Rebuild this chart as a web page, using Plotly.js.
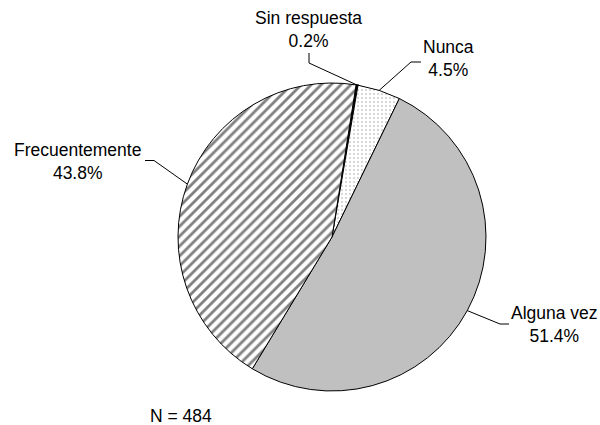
<!DOCTYPE html>
<html>
<head>
<meta charset="utf-8">
<script src="https://cdn.plot.ly/plotly-3.0.1.min.js"></script>
<style>html,body{margin:0;padding:0;background:#fff;}#chart{width:600px;height:425px;}</style>
</head>
<body>
<div id="chart"></div>
<script>
// ---- data ----
const categories = ['Sin respuesta', 'Nunca', 'Alguna vez', 'Frecuentemente'];
const values = [0.2, 4.5, 51.4, 43.8];
const pctLabels = ['0.2%', '4.5%', '51.4%', '43.8%'];
const sampleNote = 'N = 484';

// ---- layout geometry (pixels) ----
const W = 600, H = 425;
const cx = 332, cy = 237, R = 154;
const rotationDeg = 9;
// label centre, elbow point, line end near label
const labelPos = [[308.5, 29], [448, 59], [554, 324], [77, 161]];
const elbowPos = [[309, 63], [411, 62], [500, 324], [154, 160.5]];
const linePos  = [[309, 53], [421, 62], [509, 324], [145, 160.5]];

const px = x => x / W;
const py = y => 1 - y / H;
const font = {family: 'Arial, "Liberation Sans", sans-serif', size: 17.5, color: '#000'};

const total = values.reduce((a, b) => a + b, 0);
let cum = 0;
const shapes = [];
const annotations = [];
values.forEach((v, i) => {
  const mid = (rotationDeg + 360 * (cum + v / 2) / total) * Math.PI / 180;
  cum += v;
  const ex = cx + R * Math.sin(mid), ey = cy - R * Math.cos(mid);
  const [lx, ly] = linePos[i], [bx, by] = elbowPos[i];
  shapes.push({
    type: 'path', xref: 'paper', yref: 'paper',
    path: `M${px(lx)},${py(ly)} L${px(bx)},${py(by)} L${px(ex)},${py(ey)}`,
    line: {color: '#000', width: 1}
  });
  annotations.push({
    xref: 'paper', yref: 'paper', x: px(labelPos[i][0]), y: py(labelPos[i][1]),
    xanchor: 'center', yanchor: 'middle', showarrow: false, align: 'center',
    text: categories[i] + '<br>' + pctLabels[i], font: font
  });
});
annotations.push({
  xref: 'paper', yref: 'paper', x: px(148), y: py(416),
  xanchor: 'left', yanchor: 'middle', showarrow: false,
  text: sampleNote, font: font
});

const trace = {
  type: 'pie',
  labels: categories,
  values: values,
  sort: false,
  direction: 'clockwise',
  rotation: rotationDeg,
  textinfo: 'none',
  hoverinfo: 'none',
  domain: {x: [px(cx - R), px(cx + R)], y: [py(cy + R), py(cy - R)]},
  marker: {
    colors: ['#000000', '#ffffff', '#c0c0c0', '#ffffff'],
    line: {color: '#000', width: [2, 1, 1, 1]},
    pattern: {
      shape: ['', '.', '', '/'],
      fgcolor: ['#000000', '#9a9a9a', '#c0c0c0', '#808080'],
      bgcolor: ['#000000', '#ffffff', '#c0c0c0', '#ffffff'],
      size: [6, 4, 6, 7],
      solidity: [0.3, 0.1, 0.3, 0.4]
    }
  }
};

Plotly.newPlot('chart', [trace], {
  width: W, height: H,
  margin: {l: 0, r: 0, t: 0, b: 0},
  paper_bgcolor: '#fff',
  showlegend: false,
  shapes: shapes,
  annotations: annotations
}, {staticPlot: true});
</script>
</body>
</html>
